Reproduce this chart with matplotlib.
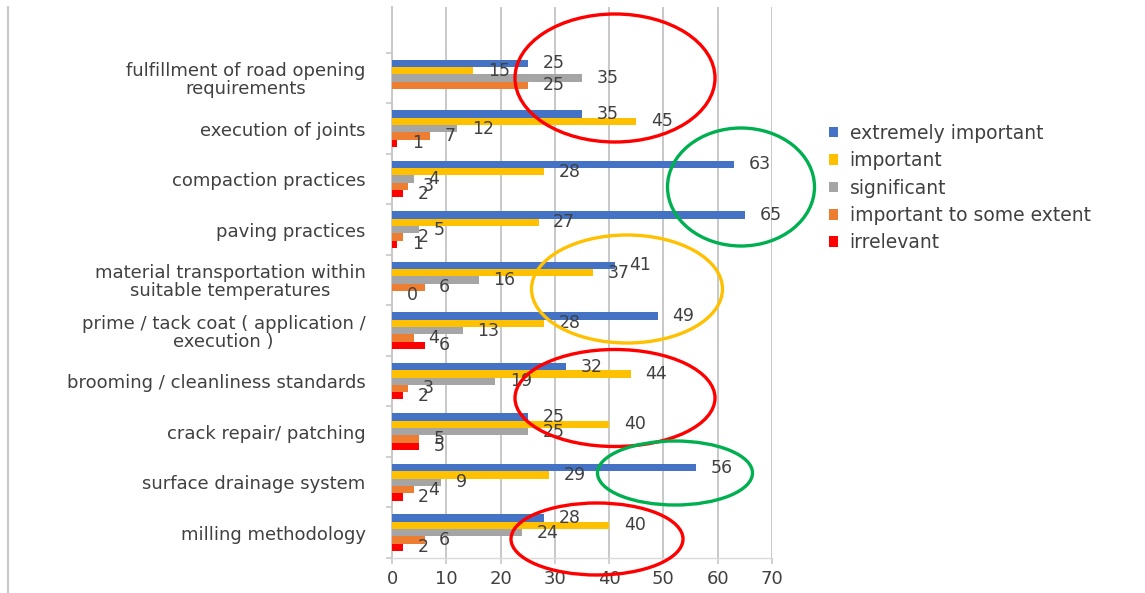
import numpy as np
import matplotlib
matplotlib.use("Agg")
import matplotlib.pyplot as plt
from matplotlib.patches import Ellipse
from matplotlib.lines import Line2D

categories = [
    "fulfillment of road opening\nrequirements",
    "execution of joints",
    "compaction practices",
    "paving practices",
    "material transportation within\nsuitable temperatures",
    "prime / tack coat ( application /\nexecution )",
    "brooming / cleanliness standards",
    "crack repair/ patching",
    "surface drainage system",
    "milling methodology",
]
series_names = ["extremely important", "important", "significant",
                "important to some extent", "irrelevant"]
extremely_important = [25, 35, 63, 65, 41, 49, 32, 25, 56, 28]
important = [15, 45, 28, 27, 37, 28, 44, 40, 29, 40]
significant = [35, 12, 4, 5, 16, 13, 19, 25, 9, 24]
important_some_extent = [25, 7, 3, 2, 6, 4, 3, 5, 4, 6]
irrelevant = [np.nan, 1, 2, 1, 0, 6, 2, 5, 2, 2]
x_ticks = [0, 10, 20, 30, 40, 50, 60, 70]

colors = ["#4472C4", "#FFC000", "#A5A5A5", "#ED7D31", "#FF0000"]
series = [extremely_important, important, significant,
          important_some_extent, irrelevant]

fig = plt.figure(figsize=(11.45, 5.93), dpi=100)
ax = fig.add_axes([392 / 1145, 35 / 593, 380 / 1145, 551 / 593])

ypos = np.arange(len(categories))
h = 0.145
text_color = "#404040"
for k, (vals, col, name) in enumerate(zip(series, colors, series_names)):
    offs = ypos + (k - 2) * h
    ax.barh(offs, vals, height=h, color=col, label=name, zorder=3)
    for y, v in zip(offs, vals):
        if np.isnan(v):
            continue
        ax.annotate(f"{v:g}", xy=(v, y), xytext=(10.5, 0),
                    textcoords="offset points", ha="left", va="center",
                    fontsize=12.5, color=text_color, zorder=5)

ax.set_xlim(0, 70)
ax.set_ylim(9.5, -1.406)
ax.set_xticks(x_ticks)
ax.set_xticklabels([str(t) for t in x_ticks], fontsize=13, color=text_color)
ax.tick_params(axis="x", length=4, width=1.2, color="#c8c8c8", pad=5)
ax.grid(axis="x", color="#c8c8c8", linewidth=1.4, zorder=0)

ax.set_yticks(np.arange(-0.5, 10, 1.0))
ax.set_yticklabels([])
ax.tick_params(axis="y", which="major", length=4, width=1.2,
               color="#c8c8c8", direction="out")
ax.set_yticks(ypos, minor=True)
ax.set_yticklabels(categories, minor=True, fontsize=13, color=text_color,
                   ha="right", multialignment="center", linespacing=1.0)
ax.tick_params(axis="y", which="minor", length=0, pad=19)

for s in ("top", "right"):
    ax.spines[s].set_visible(False)
ax.spines["left"].set_color("#c8c8c8")
ax.spines["left"].set_linewidth(1.4)
ax.spines["bottom"].set_color("#d9d9d9")
ax.spines["bottom"].set_linewidth(1.0)

leg = fig.legend(loc="center left", bbox_to_anchor=(812 / 1145, 1 - 188 / 593),
                 frameon=False, fontsize=13.5, handlelength=0.5,
                 handleheight=0.5, handletextpad=0.6, labelspacing=0.45)
for t in leg.get_texts():
    t.set_color(text_color)

# highlight rings (centre x, centre y, width, height in pixels)
rings = [
    (615, 78, 200, 128, "#FF0000"),
    (741, 187, 147, 118, "#00B050"),
    (627, 289, 191, 108, "#FFC000"),
    (615, 398, 200, 97, "#FF0000"),
    (675, 473, 155, 64, "#00B050"),
    (597, 539, 172, 72, "#FF0000"),
]
W, H = 1145, 593
for cx, cy, w, hh, c in rings:
    fig.add_artist(Ellipse((cx / W, 1 - cy / H), w / W, hh / H,
                           transform=fig.transFigure, fill=False,
                           edgecolor=c, linewidth=2.4, zorder=10))

fig.add_artist(Line2D([8 / W, 8 / W], [0, 1 - 7 / H], transform=fig.transFigure,
                      color="#c8c8c8", linewidth=1.5))

fig.savefig("out.png", dpi=100)
